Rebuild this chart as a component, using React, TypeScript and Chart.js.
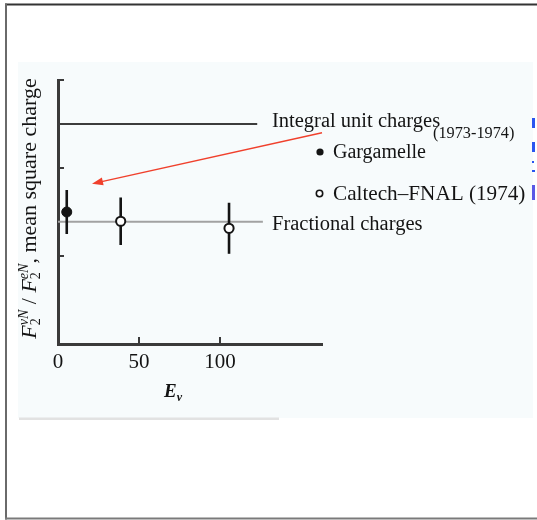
import React, { useEffect, useRef } from "react";
import { Chart, registerables } from "chart.js";

Chart.register(...registerables);

// Neutrino energy ticks and (unlabelled) mean-square-charge ticks
const energyTicks = [0, 50, 100];
const chargeTicks = [0.2, 0.4, 0.6];

// Gargamelle (1973-1974)
const gargamelleEnergy = [5.4];
const gargamelleCharge = [0.3];
const gargamelleError = [0.05];

// Caltech-FNAL (1974)
const caltechEnergy = [38.7, 105.6];
const caltechCharge = [0.279, 0.263];
const caltechError = [0.054, 0.058];

// Reference levels
const integralLevel = 0.5;
const integralRange = [0, 123];
const fractionalLevel = 5 / 18;
const fractionalRange = [0, 126.5];

// Arrow from the integral-charge label towards the data
const arrowFrom = { x: 163, y: 0.48 };
const arrowTo = { x: 21, y: 0.364 };

const W = 537;
const H = 520;
const SERIF = "'Liberation Serif', 'Times New Roman', serif";
const INK = "#141414";

const framePlugin = {
  id: "frame",
  beforeDraw(chart: any) {
    const ctx = chart.ctx as CanvasRenderingContext2D;
    ctx.save();
    ctx.fillStyle = "#ffffff";
    ctx.fillRect(0, 0, W, H);
    // scanned figure background
    ctx.fillStyle = "#f7fbfc";
    ctx.fillRect(18, 62, 515, 356);
    // separator under the figure
    ctx.fillStyle = "#e2e2e2";
    ctx.fillRect(19, 417.5, 260, 2.5);
    // outer frame
    ctx.fillStyle = "#333333";
    ctx.fillRect(5, 3.5, W - 5, 2);
    ctx.fillStyle = "#6a6a6a";
    ctx.fillRect(5, 3.5, 2, 516);
    ctx.fillStyle = "#7a7a7a";
    ctx.fillRect(5, 517.5, W - 5, 2);
    ctx.restore();
  },
};

function drawText(
  ctx: CanvasRenderingContext2D,
  text: string,
  x: number,
  y: number,
  font: string
) {
  ctx.font = font;
  ctx.fillText(text, x, y);
  return ctx.measureText(text).width;
}

const annotationPlugin = {
  id: "annotations",
  afterDraw(chart: any) {
    const ctx = chart.ctx as CanvasRenderingContext2D;
    const xs = chart.scales.x;
    const ys = chart.scales.y;
    const area = chart.chartArea;
    ctx.save();

    // inward tick marks
    ctx.strokeStyle = "#3a3a3a";
    ctx.lineWidth = 2;
    chargeTicks.forEach((v) => {
      const py = Math.round(ys.getPixelForValue(v));
      ctx.beginPath();
      ctx.moveTo(area.left, py);
      ctx.lineTo(area.left + 6, py);
      ctx.stroke();
    });
    energyTicks.slice(1).forEach((v) => {
      const px = Math.round(xs.getPixelForValue(v));
      ctx.beginPath();
      ctx.moveTo(px, area.bottom);
      ctx.lineTo(px, area.bottom - 7);
      ctx.stroke();
    });

    // arrow
    const ax0 = xs.getPixelForValue(arrowFrom.x);
    const ay0 = ys.getPixelForValue(arrowFrom.y);
    const ax1 = xs.getPixelForValue(arrowTo.x);
    const ay1 = ys.getPixelForValue(arrowTo.y);
    const ang = Math.atan2(ay1 - ay0, ax1 - ax0);
    const headLen = 11;
    const headHalf = 4;
    ctx.strokeStyle = "#f0402c";
    ctx.fillStyle = "#f0402c";
    ctx.lineWidth = 1.4;
    ctx.beginPath();
    ctx.moveTo(ax0, ay0);
    ctx.lineTo(ax1 - Math.cos(ang) * headLen * 0.8, ay1 - Math.sin(ang) * headLen * 0.8);
    ctx.stroke();
    ctx.beginPath();
    ctx.moveTo(ax1, ay1);
    ctx.lineTo(
      ax1 - Math.cos(ang) * headLen - Math.sin(ang) * headHalf,
      ay1 - Math.sin(ang) * headLen + Math.cos(ang) * headHalf
    );
    ctx.lineTo(
      ax1 - Math.cos(ang) * headLen + Math.sin(ang) * headHalf,
      ay1 - Math.sin(ang) * headLen - Math.cos(ang) * headHalf
    );
    ctx.closePath();
    ctx.fill();

    // labels
    ctx.fillStyle = INK;
    ctx.textBaseline = "alphabetic";
    ctx.textAlign = "left";
    drawText(ctx, "Integral unit charges", 272, 127, `20.5px ${SERIF}`);
    drawText(ctx, "(1973-1974)", 433, 138, `16.3px ${SERIF}`);
    drawText(ctx, "Gargamelle", 333, 158, `20px ${SERIF}`);
    drawText(ctx, "Caltech\u2013FNAL (1974)", 333, 200, `21.2px ${SERIF}`);
    drawText(ctx, "Fractional charges", 272, 230, `20.5px ${SERIF}`);

    // legend symbols
    ctx.beginPath();
    ctx.arc(320, 152, 3.6, 0, Math.PI * 2);
    ctx.fill();
    ctx.beginPath();
    ctx.arc(319.5, 193.5, 3.2, 0, Math.PI * 2);
    ctx.fillStyle = "#ffffff";
    ctx.fill();
    ctx.strokeStyle = INK;
    ctx.lineWidth = 1.6;
    ctx.stroke();

    // x-axis title: E_nu
    ctx.fillStyle = INK;
    const ew = drawText(ctx, "E", 164, 397, `italic bold 19px ${SERIF}`);
    drawText(ctx, "\u03bd", 164 + ew, 401, `italic bold 12px ${SERIF}`);

    // y-axis title, rotated
    ctx.save();
    ctx.translate(36, 208.5);
    ctx.rotate(-Math.PI / 2);
    const big = `22px ${SERIF}`;
    const bigIt = `italic 22px ${SERIF}`;
    const small = `14px ${SERIF}`;
    const smallIt = `italic 14px ${SERIF}`;
    const pieces: { t: string; f: string; dy: number; stack?: boolean }[] = [
      { t: "F", f: bigIt, dy: 0 },
      { t: "2", f: small, dy: 4, stack: true },
      { t: "\u03bdN", f: smallIt, dy: -8 },
      { t: " / ", f: big, dy: 0 },
      { t: "F", f: bigIt, dy: 0 },
      { t: "2", f: small, dy: 4, stack: true },
      { t: "eN", f: smallIt, dy: -8 },
      { t: ", mean square charge", f: big, dy: 0 },
    ];
    let total = 0;
    let pendingStack = 0;
    pieces.forEach((p) => {
      ctx.font = p.f;
      const w = ctx.measureText(p.t).width;
      if (p.stack) {
        pendingStack = w;
      } else {
        total += Math.max(w, pendingStack);
        pendingStack = 0;
      }
    });
    let cx = -total / 2;
    let stackW = 0;
    pieces.forEach((p) => {
      ctx.font = p.f;
      const w = ctx.measureText(p.t).width;
      ctx.fillText(p.t, cx, p.dy);
      if (p.stack) {
        stackW = w;
      } else {
        cx += Math.max(w, stackW);
        stackW = 0;
      }
    });
    ctx.restore();

    // scan remnants at the right edge
    ctx.fillStyle = "#2a55f0";
    ctx.fillRect(532, 118, 3, 10);
    ctx.fillRect(532, 142, 3, 10);
    ctx.fillRect(532, 161, 2, 2);
    ctx.fillRect(532, 170, 3, 2);
    ctx.fillStyle = "#5a58e6";
    ctx.fillRect(532, 185, 3, 15);

    ctx.restore();
  },
};

function errorBarSets(energy: number[], charge: number[], err: number[]) {
  return energy.map((e, i) => ({
    type: "line" as const,
    data: [
      { x: e, y: charge[i] - err[i] },
      { x: e, y: charge[i] + err[i] },
    ],
    borderColor: INK,
    borderWidth: 2.6,
    pointRadius: 0,
    showLine: true,
    order: 1,
  }));
}

export default function App() {
  const canvasRef = useRef<HTMLCanvasElement | null>(null);

  useEffect(() => {
    const canvas = canvasRef.current;
    if (!canvas) return;

    const datasets: any[] = [
      {
        label: "Gargamelle",
        data: gargamelleEnergy.map((e, i) => ({ x: e, y: gargamelleCharge[i] })),
        pointRadius: 5,
        pointBackgroundColor: INK,
        pointBorderColor: INK,
        pointBorderWidth: 1,
        showLine: false,
        order: 0,
      },
      {
        label: "Caltech-FNAL",
        data: caltechEnergy.map((e, i) => ({ x: e, y: caltechCharge[i] })),
        pointRadius: 4.6,
        pointBackgroundColor: "#ffffff",
        pointBorderColor: INK,
        pointBorderWidth: 2,
        showLine: false,
        order: 0,
      },
      ...errorBarSets(gargamelleEnergy, gargamelleCharge, gargamelleError),
      ...errorBarSets(caltechEnergy, caltechCharge, caltechError),
      {
        label: "Integral unit charges",
        type: "line",
        data: integralRange.map((e) => ({ x: e, y: integralLevel })),
        borderColor: "#3c3c3c",
        borderWidth: 2,
        pointRadius: 0,
        showLine: true,
        order: 2,
      },
      {
        label: "Fractional charges",
        type: "line",
        data: fractionalRange.map((e) => ({ x: e, y: fractionalLevel })),
        borderColor: "#a2a2a2",
        borderWidth: 2,
        pointRadius: 0,
        showLine: true,
        order: 2,
      },
    ];

    const chart = new Chart(canvas, {
      type: "scatter",
      data: { datasets },
      options: {
        responsive: false,
        animation: false,
        events: [],
        layout: { padding: { left: 0, top: 80, right: W - 322, bottom: 0 } },
        plugins: {
          legend: { display: false },
          tooltip: { enabled: false },
        },
        scales: {
          x: {
            type: "linear",
            min: 0,
            max: 163,
            grid: { display: false, drawTicks: false },
            border: { display: true, color: "#3a3a3a", width: 3 },
            ticks: {
              font: { family: SERIF, size: 21 },
              color: INK,
              padding: 6,
              autoSkip: false,
              maxRotation: 0,
            },
            afterBuildTicks: (s: any) => {
              s.ticks = energyTicks.map((v) => ({ value: v }));
            },
            afterFit: (s: any) => {
              s.height = H - 344;
            },
          },
          y: {
            type: "linear",
            min: 0,
            max: 0.6,
            grid: { display: false, drawTicks: false },
            border: { display: true, color: "#3a3a3a", width: 3 },
            ticks: { display: false },
            afterBuildTicks: (s: any) => {
              s.ticks = chargeTicks.map((v) => ({ value: v }));
            },
            afterFit: (s: any) => {
              s.width = 58;
            },
          },
        },
      },
      plugins: [framePlugin, annotationPlugin],
    });

    return () => chart.destroy();
  }, []);

  return (
    <div style={{ position: "absolute", left: 0, top: 0, width: W, height: H }}>
      <canvas ref={canvasRef} width={W} height={H} style={{ display: "block" }} />
    </div>
  );
}
